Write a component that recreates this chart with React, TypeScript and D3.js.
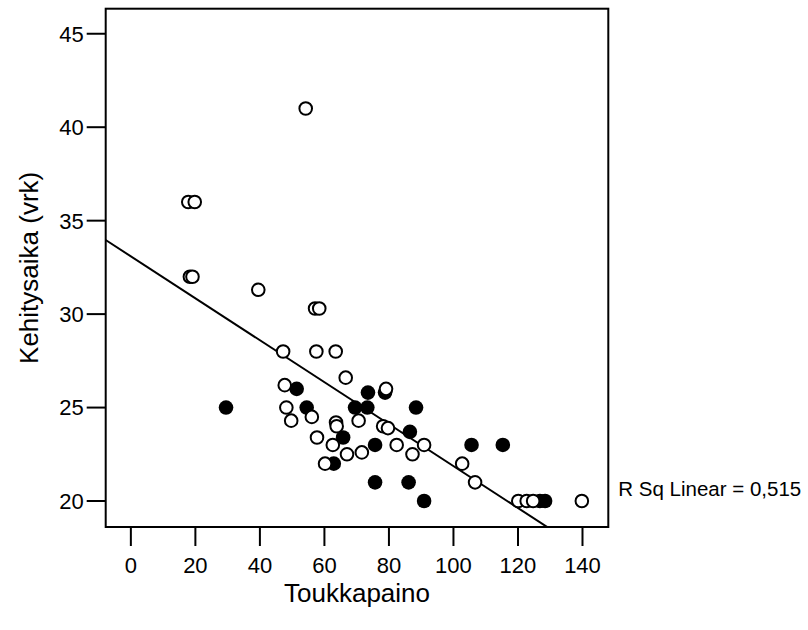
import React from 'react';
import * as d3 from 'd3';

// Toukkapaino (x) vs Kehitysaika (y), two groups
const openX = [54.2, 17.8, 19.8, 18.3, 19.1, 39.5, 57.1, 58.4, 47.2, 57.5, 63.5, 66.6, 47.7, 48.2, 49.7, 56.1,
  63.6, 63.8, 70.6, 79.1, 78.2, 79.7, 57.7, 62.6, 67.0, 71.6, 60.2, 82.4, 87.3, 90.9, 102.7, 106.7,
  120.1, 122.7, 124.7, 139.8];
const openY = [41.0, 36.0, 36.0, 32.0, 32.0, 31.3, 30.3, 30.3, 28.0, 28.0, 28.0, 26.6, 26.2, 25.0, 24.3, 24.5,
  24.2, 24.0, 24.3, 26.0, 24.0, 23.9, 23.4, 23.0, 22.5, 22.6, 22.0, 23.0, 22.5, 23.0, 22.0, 21.0,
  20.0, 20.0, 20.0, 20.0];

const filledX = [29.5, 51.4, 54.5, 69.5, 73.3, 73.5, 78.8, 65.8, 62.9, 86.5, 88.4, 75.7, 105.6, 115.3,
  75.7, 86.1, 90.9, 126.8, 128.4];
const filledY = [25.0, 26.0, 25.0, 25.0, 25.0, 25.8, 25.8, 23.4, 22.0, 23.7, 25.0, 23.0, 23.0, 23.0,
  21.0, 21.0, 20.0, 20.0, 20.0];

const xTicks = [0, 20, 40, 60, 80, 100, 120, 140];
const yTicks = [20, 25, 30, 35, 40, 45];

// linear fit shown in the chart
const fitIntercept = 33.09;
const fitSlope = -0.1122;
const rSqLabel = 'R Sq Linear = 0,515';

const W = 808;
const H = 630;
const left = 105.7, right = 608.3, top = 8.7, bottom = 527;

export default function App() {
  const x = d3.scaleLinear().domain([-7.8, 148]).range([left, right]);
  const y = d3.scaleLinear().domain([18.61, 46.34]).range([bottom, top]);

  const font = 'Arial, "Liberation Sans", sans-serif';
  const r = 6.3;

  const x0 = x.domain()[0];
  const x1 = x.domain()[1];
  const fitLine = d3.line<number>()
    .x(d => x(d))
    .y(d => y(fitIntercept + fitSlope * d));

  return (
    <svg width={W} height={H} style={{ position: 'absolute', left: 0, top: 0, background: '#fff' }}>
      <defs>
        <clipPath id="plot">
          <rect x={left} y={top} width={right - left} height={bottom - top} />
        </clipPath>
      </defs>

      {/* y axis ticks */}
      {yTicks.map(t => (
        <g key={'y' + t}>
          <line x1={left - 19} x2={left} y1={y(t)} y2={y(t)} stroke="#000" strokeWidth={2} />
          <text x={left - 22} y={y(t)} dy="0.36em" textAnchor="end" fontFamily={font} fontSize={22}>{t}</text>
        </g>
      ))}

      {/* x axis ticks */}
      {xTicks.map(t => (
        <g key={'x' + t}>
          <line x1={x(t)} x2={x(t)} y1={bottom} y2={bottom + 19} stroke="#000" strokeWidth={2} />
          <text x={x(t)} y={bottom + 46} textAnchor="middle" fontFamily={font} fontSize={22}>{t}</text>
        </g>
      ))}

      <g clipPath="url(#plot)">
        <path d={fitLine([x0, x1]) || ''} fill="none" stroke="#000" strokeWidth={2} />
        {filledX.map((v, i) => (
          <circle key={'f' + i} cx={x(v)} cy={y(filledY[i])} r={r + 1} fill="#000" />
        ))}
        {openX.map((v, i) => (
          <circle key={'o' + i} cx={x(v)} cy={y(openY[i])} r={r} fill="#fff" stroke="#000" strokeWidth={2} />
        ))}
      </g>

      <rect x={left} y={top} width={right - left} height={bottom - top} fill="none" stroke="#000" strokeWidth={2} />

      <text x={right + 10} y={496} fontFamily={font} fontSize={20.5}>{rSqLabel}</text>

      <text x={(left + right) / 2} y={602} textAnchor="middle" fontFamily={font} fontSize={26}>Toukkapaino</text>
      <text transform={`translate(38,${(top + bottom) / 2}) rotate(-90)`} textAnchor="middle" fontFamily={font} fontSize={26}>
        Kehitysaika (vrk)
      </text>
    </svg>
  );
}
